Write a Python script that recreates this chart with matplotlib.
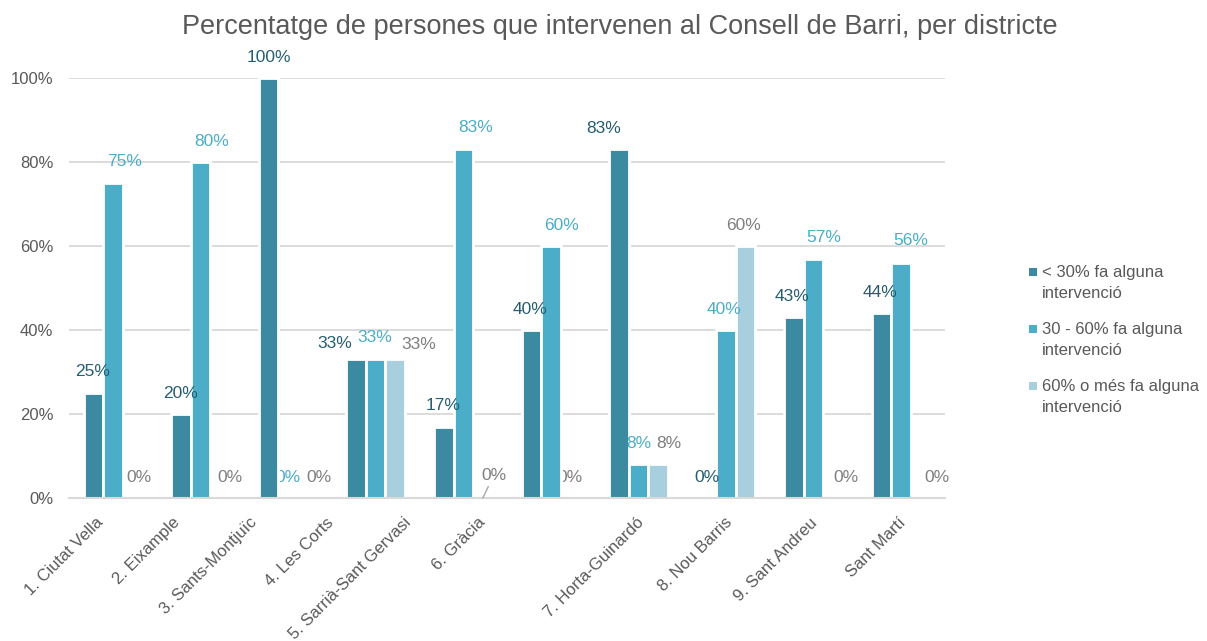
import matplotlib
matplotlib.use("Agg")
import matplotlib.pyplot as plt
from matplotlib.patches import Rectangle
from matplotlib.ticker import FuncFormatter
import numpy as np

plt.rcParams['font.family'] = ['Liberation Sans', 'DejaVu Sans']

# Districts of Barcelona
districts = ["1. Ciutat Vella", "2. Eixample", "3. Sants-Montjuïc", "4. Les Corts",
             "5. Sarrià-Sant Gervasi", "6. Gràcia", "7. Horta-Guinardó",
             "8. Nou Barris", "9. Sant Andreu", "Sant Martí"]

series_names = ["< 30% fa alguna\nintervenció",
                "30 - 60% fa alguna\nintervenció",
                "60% o més fa alguna\nintervenció"]

# Share of people speaking at the district council (percent)
low_share = [25, 20, 100, 33, 17, 40, 83, 0, 43, 44]
mid_share = [75, 80, 0, 33, 83, 60, 8, 40, 57, 56]
high_share = [0, 0, 0, 33, 0, 0, 8, 60, 0, 0]

yticks = [0, 20, 40, 60, 80, 100]

# Styling
bar_colors = ["#3B8AA2", "#4BADC7", "#A8CFDD"]
label_colors = ["#255E70", "#4BADC7", "#7F7F7F"]
text_grey = "#595959"
grid_grey = "#D9D9D9"

# Label nudges in pixels (dx, rise above bar top)
label_dx = [
    [-1, -1, 0, -21, -1, -1.5, -15, 0, -2, -2],
    [11.5, 11, 0, -1, 12, 11, 0, -2, 10, 10],
    [6, 10, 11, 23, 11, 0, 11, -2, 13, 16],
]
label_rise = [
    [21, 21, 21, 16, 21, 21, 21, 21, 21, 21],
    [21, 21, 21, 22, 22, 21, 21, 21, 21, 22],
    [21, 21, 21, 15, 23, 21, 21, 21, 21, 21],
]
# Labels that sit behind the neighbouring bar
behind_bars = {(1, 2), (2, 5)}
# Horizontal nudges for the category labels (pixels)
cat_dx = [-17.5, -28, -39.5, -50, -60.5, -73, -2.5, -2, -4, -3]

W, H = 1207, 641
fig = plt.figure(figsize=(W / 100, H / 100), dpi=100)
ax = fig.add_axes([69.2 / W, (H - 498) / H, (945 - 69.2) / W, 420 / H])

x = np.arange(len(districts))
width = 0.2229
all_series = [low_share, mid_share, high_share]

for s, vals in enumerate(all_series):
    xs = x + (s - 1) * width
    ax.bar(xs, vals, width=width, color=bar_colors[s], edgecolor="white",
           linewidth=2.0, zorder=3)
    for i, v in enumerate(vals):
        kw = {}
        if (s, i) == (2, 4):
            kw["arrowprops"] = dict(arrowstyle="-", color="#A6A6A6", lw=1.0,
                                    shrinkA=1, shrinkB=0)
        ax.annotate(f"{v:.0f}%", xy=(xs[i], v), xycoords="data",
                    xytext=(label_dx[s][i], label_rise[s][i]),
                    textcoords="offset pixels", ha="center", va="center",
                    fontsize=12.5, color=label_colors[s],
                    zorder=2 if (s, i) in behind_bars else 5,
                    annotation_clip=False, **kw)

ax.set_xlim(-0.5, len(districts) - 0.5)
ax.set_ylim(0, 100)
ax.set_yticks(yticks)
ax.yaxis.set_major_formatter(FuncFormatter(lambda v, p: f"{v:.0f}%"))
ax.tick_params(axis="y", length=0, pad=11.5, labelsize=12, labelcolor=text_grey)
ax.set_xticks([])
ax.grid(axis="y", color=grid_grey, linewidth=1.3, zorder=0)
ax.set_axisbelow(True)
for side in ["top", "right", "left"]:
    ax.spines[side].set_visible(False)
ax.spines["bottom"].set_color(grid_grey)
ax.spines["bottom"].set_linewidth(1.5)
ax.spines["bottom"].set_zorder(4)

# Rotated category labels under each group
for i, name in enumerate(districts):
    ax.annotate(name, xy=(x[i], 0), xycoords=ax.get_xaxis_transform(),
                xytext=(cat_dx[i], -17), textcoords="offset pixels",
                rotation=45, rotation_mode="anchor", ha="right", va="top",
                fontsize=12, color=text_grey, annotation_clip=False)

# Title
fig.text(620 / W, 1 - 27 / H,
         "Percentatge de persones que intervenen al Consell de Barri, per districte",
         ha="center", va="center", fontsize=19.5, color=text_grey)

# Legend with the swatch beside the first line of each entry
legend_rows = [272, 329, 386]
for s, row in enumerate(legend_rows):
    fig.add_artist(Rectangle((1029 / W, 1 - (row + 4) / H), 8 / W, 8 / H,
                             transform=fig.transFigure, color=bar_colors[s],
                             linewidth=0))
    fig.text(1042 / W, 1 - (row - 7) / H, series_names[s], ha="left", va="top",
             fontsize=12, color=text_grey, linespacing=1.5)

fig.savefig("out.png", dpi=100)
